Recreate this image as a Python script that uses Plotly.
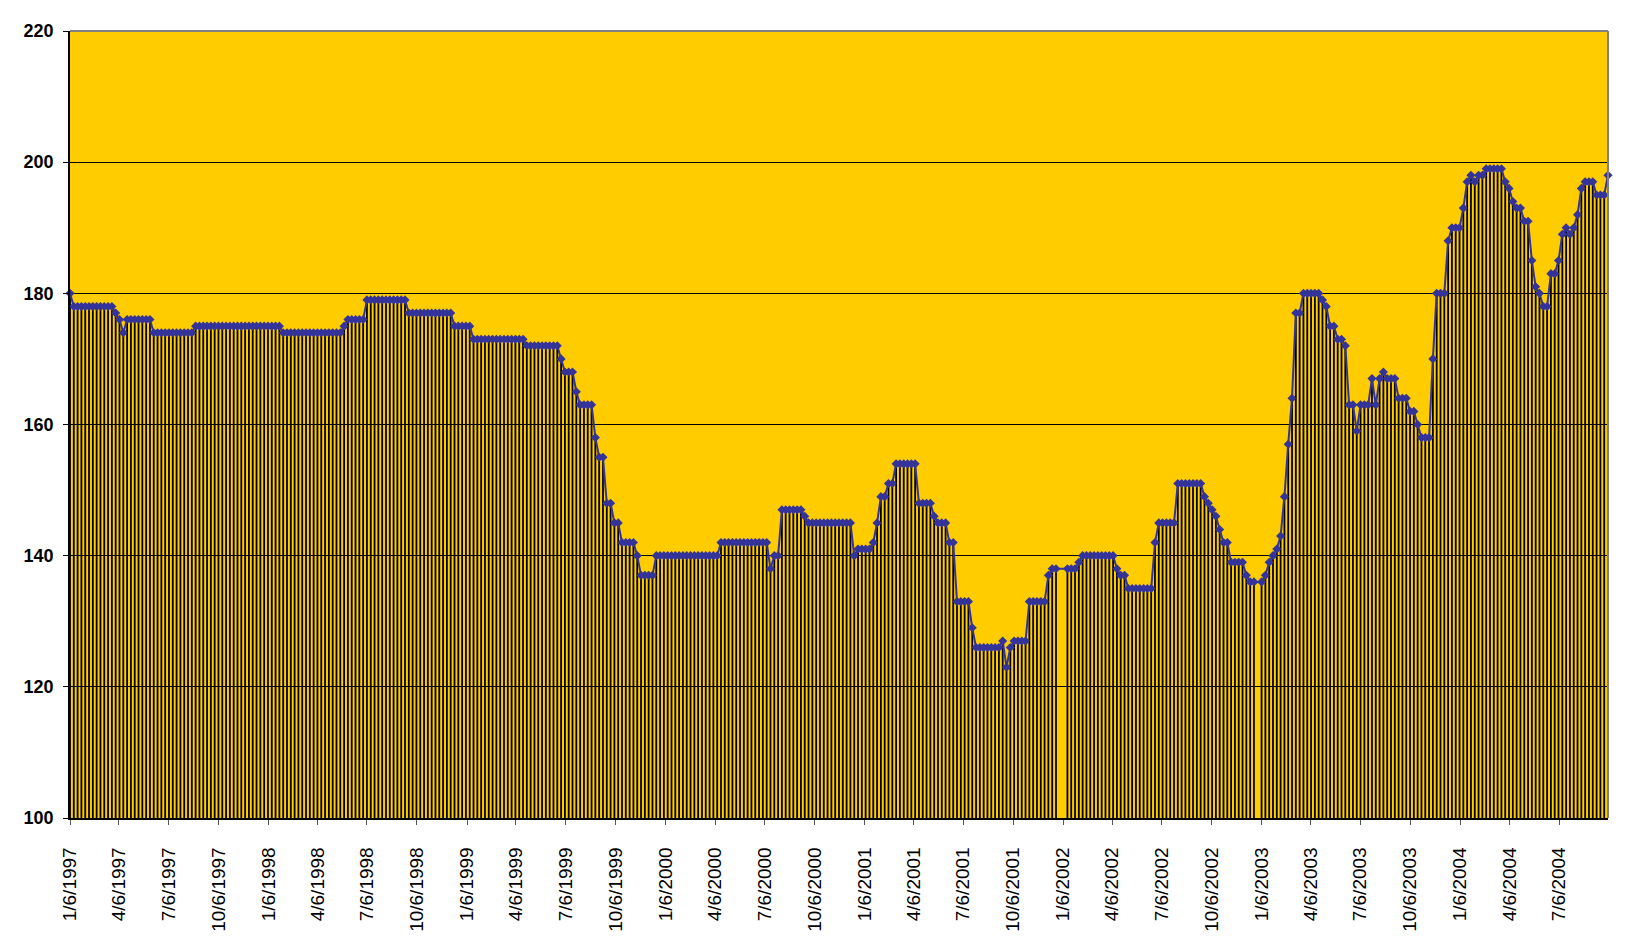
import pandas as pd
import plotly.graph_objects as go

# Weekly observations starting Monday 1/6/1997 (None = week with no data)
start_date = "1997-01-06"
n_weeks = 405
values = [
    180, 178, 178, 178, 178, 178, 178, 178, 178, 178,
    178, 178, 177, 176, 174, 176, 176, 176, 176, 176,
    176, 176, 174, 174, 174, 174, 174, 174, 174, 174,
    174, 174, 174, 175, 175, 175, 175, 175, 175, 175,
    175, 175, 175, 175, 175, 175, 175, 175, 175, 175,
    175, 175, 175, 175, 175, 175, 174, 174, 174, 174,
    174, 174, 174, 174, 174, 174, 174, 174, 174, 174,
    174, 174, 175, 176, 176, 176, 176, 176, 179, 179,
    179, 179, 179, 179, 179, 179, 179, 179, 179, 177,
    177, 177, 177, 177, 177, 177, 177, 177, 177, 177,
    177, 175, 175, 175, 175, 175, 173, 173, 173, 173,
    173, 173, 173, 173, 173, 173, 173, 173, 173, 173,
    172, 172, 172, 172, 172, 172, 172, 172, 172, 170,
    168, 168, 168, 165, 163, 163, 163, 163, 158, 155,
    155, 148, 148, 145, 145, 142, 142, 142, 142, 140,
    137, 137, 137, 137, 140, 140, 140, 140, 140, 140,
    140, 140, 140, 140, 140, 140, 140, 140, 140, 140,
    140, 142, 142, 142, 142, 142, 142, 142, 142, 142,
    142, 142, 142, 142, 138, 140, 140, 147, 147, 147,
    147, 147, 147, 146, 145, 145, 145, 145, 145, 145,
    145, 145, 145, 145, 145, 145, 140, 141, 141, 141,
    141, 142, 145, 149, 149, 151, 151, 154, 154, 154,
    154, 154, 154, 148, 148, 148, 148, 146, 145, 145,
    145, 142, 142, 133, 133, 133, 133, 129, 126, 126,
    126, 126, 126, 126, 126, 127, 123, 126, 127, 127,
    127, 127, 133, 133, 133, 133, 133, 137, 138, 138,
    None, None, 138, 138, 138, 139, 140, 140, 140, 140,
    140, 140, 140, 140, 140, 138, 137, 137, 135, 135,
    135, 135, 135, 135, 135, 142, 145, 145, 145, 145,
    145, 151, 151, 151, 151, 151, 151, 151, 149, 148,
    147, 146, 144, 142, 142, 139, 139, 139, 139, 137,
    136, 136, None, 136, 137, 139, 140, 141, 143, 149,
    157, 164, 177, 177, 180, 180, 180, 180, 180, 179,
    178, 175, 175, 173, 173, 172, 163, 163, 159, 163,
    163, 163, 167, 163, 167, 168, 167, 167, 167, 164,
    164, 164, 162, 162, 160, 158, 158, 158, 170, 180,
    180, 180, 188, 190, 190, 190, 193, 197, 198, 197,
    198, 198, 199, 199, 199, 199, 199, 197, 196, 194,
    193, 193, 191, 191, 185, 181, 180, 178, 178, 183,
    183, 185, 189, 190, 189, 190, 192, 196, 197, 197,
    197, 195, 195, 195, 198,
]

tick_labels = [
    "1/6/1997", "4/6/1997", "7/6/1997", "10/6/1997",
    "1/6/1998", "4/6/1998", "7/6/1998", "10/6/1998",
    "1/6/1999", "4/6/1999", "7/6/1999", "10/6/1999",
    "1/6/2000", "4/6/2000", "7/6/2000", "10/6/2000",
    "1/6/2001", "4/6/2001", "7/6/2001", "10/6/2001",
    "1/6/2002", "4/6/2002", "7/6/2002", "10/6/2002",
    "1/6/2003", "4/6/2003", "7/6/2003", "10/6/2003",
    "1/6/2004", "4/6/2004", "7/6/2004",
]

y_min, y_max, y_step = 100, 220, 20

dates = pd.date_range(start_date, periods=n_weeks, freq="7D")
tick_vals = pd.to_datetime(tick_labels, format="%m/%d/%Y")
drop = [None if v is None else v - y_min for v in values]

LINE_BLUE = "#333399"
FONT = "Liberation Sans, Arial, sans-serif"

fig = go.Figure()

# Drop lines from each point down to the category axis
fig.add_trace(go.Scatter(
    x=dates, y=values, mode="markers",
    marker=dict(size=1, color="rgba(0,0,0,0)"),
    error_y=dict(type="data", symmetric=False,
                 array=[0 if v is not None else None for v in values],
                 arrayminus=drop, width=0, thickness=1.8, color="#000000"),
    hoverinfo="skip", showlegend=False, cliponaxis=False,
))

# Line with diamond markers
fig.add_trace(go.Scatter(
    x=dates, y=values, mode="lines+markers",
    line=dict(color=LINE_BLUE, width=2),
    marker=dict(symbol="diamond", size=7, color=LINE_BLUE),
    connectgaps=True, showlegend=False, cliponaxis=False,
))

# page body has an 8px default margin: size the figure so it fits the window
W, H = 1628, 935
m_l, m_r, m_t, m_b = 62, 28, 23, 125

fig.update_layout(
    width=W, height=H,
    margin=dict(l=m_l, r=m_r, t=m_t, b=m_b, autoexpand=False),
    paper_bgcolor="white",
    plot_bgcolor="#FFCC00",
    font=dict(family=FONT, color="black"),
    xaxis=dict(
        type="date",
        range=[dates[0], dates[-1]],
        tickmode="array", tickvals=tick_vals, ticktext=tick_labels,
        tickangle=-90,
        tickfont=dict(size=19, family=FONT, color="black"),
        ticks="outside", ticklen=5, tickcolor="#555555", tickwidth=1,
        showgrid=False, zeroline=False,
        showline=True, linecolor="#000000", linewidth=1.5,
        ticklabelstandoff=15, automargin=False,
    ),
    yaxis=dict(
        range=[y_min, y_max], dtick=y_step, tick0=y_min,
        tickfont=dict(size=18, family=FONT, color="black", weight="bold"),
        ticks="outside", ticklen=5, tickcolor="#000000", tickwidth=1,
        showgrid=True, gridcolor="#000000", gridwidth=1,
        zeroline=False,
        showline=True, linecolor="#000000", linewidth=1.5,
        ticklabelstandoff=6, automargin=False,
    ),
    shapes=[
        dict(type="line", xref="paper", yref="paper",
             x0=0, x1=1, y0=1, y1=1, line=dict(color="#808080", width=2), layer="above"),
        dict(type="line", xref="paper", yref="paper",
             x0=1, x1=1, y0=0, y1=1, line=dict(color="#808080", width=2), layer="above"),
    ],
)

fig.write_html("out.html")
